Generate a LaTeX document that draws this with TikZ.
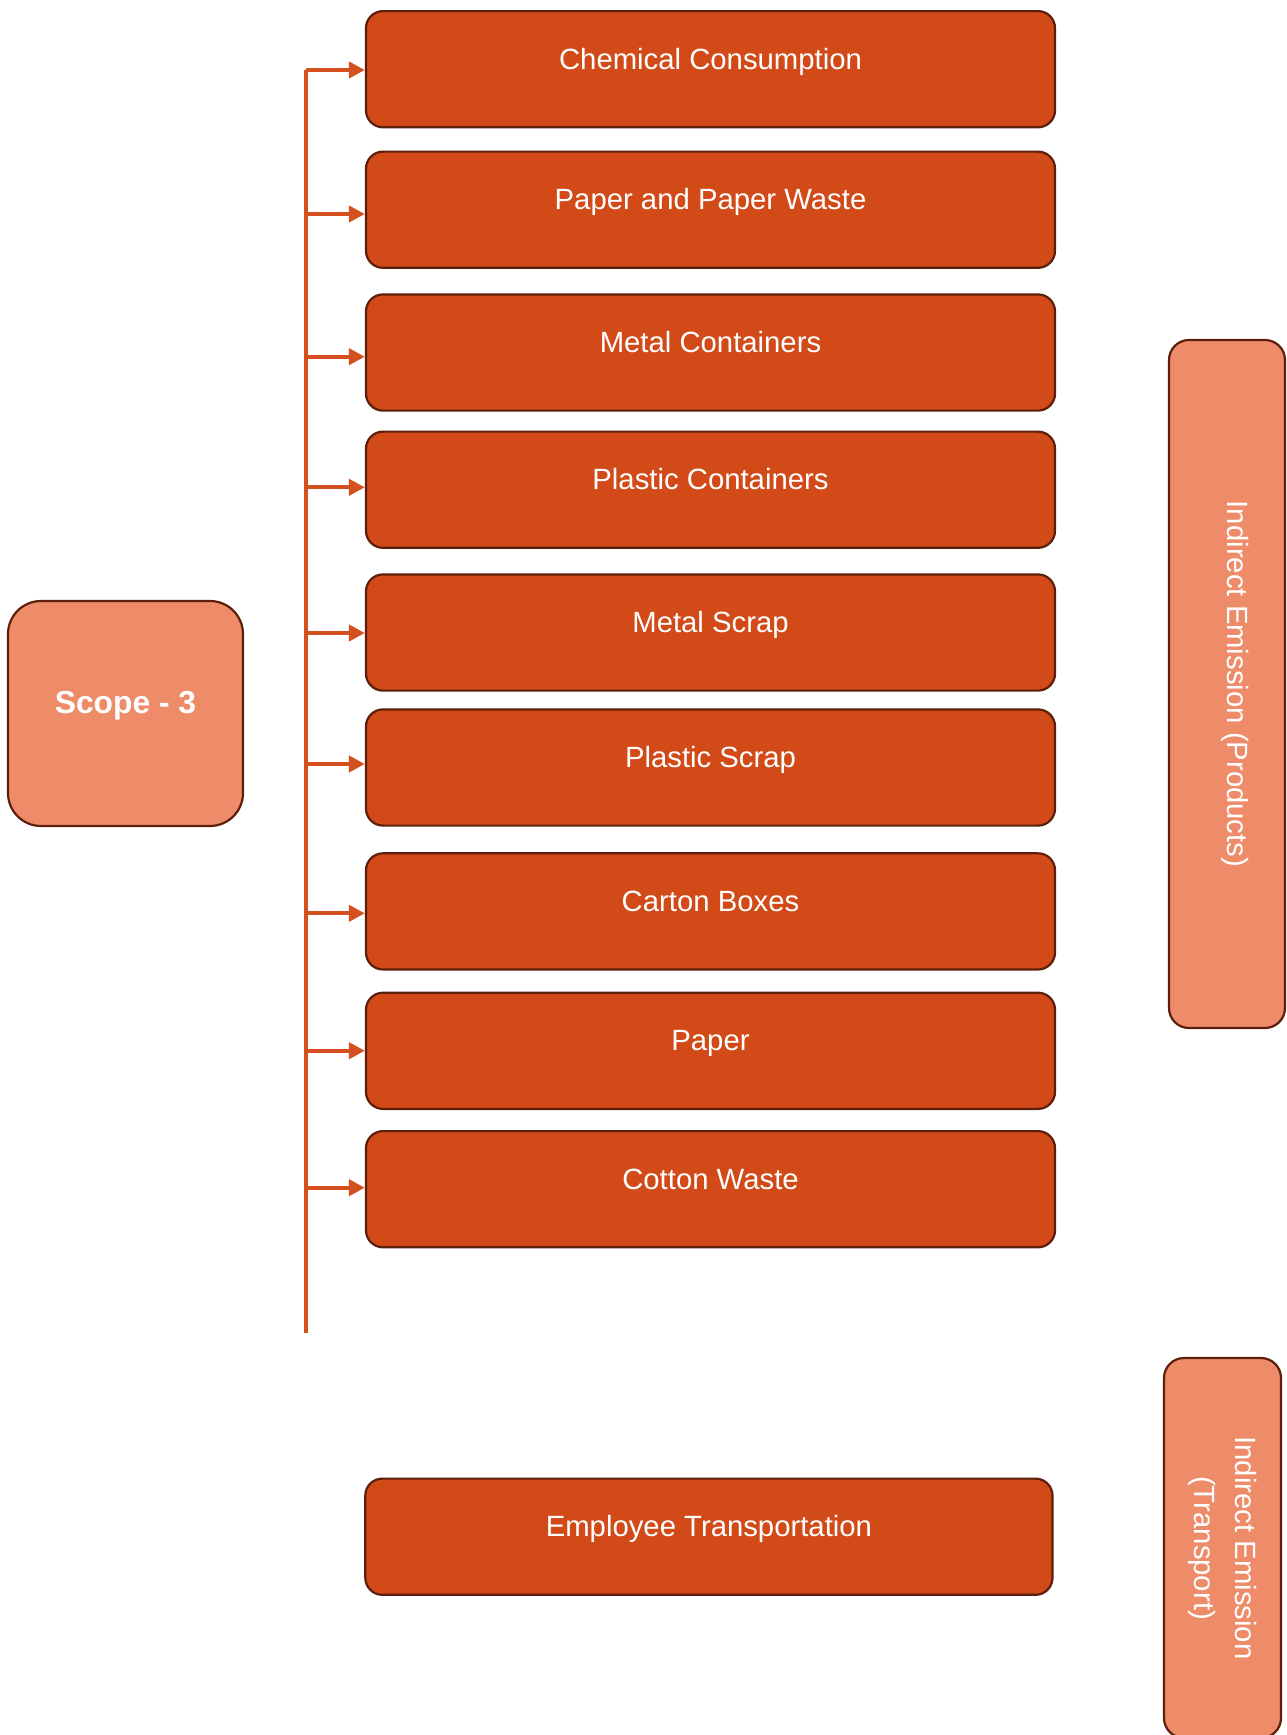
\documentclass[tikz,border=0pt]{standalone}
\usepackage{fontspec}
\setmainfont{Liberation Sans}
\usetikzlibrary{arrows.meta}
\definecolor{darkfill}{HTML}{D14A18}
\definecolor{lightfill}{HTML}{EE8C6A}
\definecolor{edgecol}{HTML}{5C1F0B}
\definecolor{linkcol}{HTML}{D4501F}
\begin{document}
\begin{tikzpicture}[x=0.5pt,y=-0.5pt,
  itembox/.style={draw=edgecol, line width=1.1pt, fill=darkfill, rounded corners=8.5pt,
    minimum width=344.5pt, minimum height=58.1pt, inner sep=0pt},
  sidebox/.style={draw=edgecol, line width=1.1pt, fill=lightfill, rounded corners=10pt, inner sep=0pt},
  lbl/.style={text=white, font=\fontsize{14.65}{17}\selectfont, anchor=base, inner sep=0pt},
  link/.style={draw=linkcol, line width=2pt, -{Triangle[length=8pt,width=8pt]}},
  trunk/.style={draw=linkcol, line width=2pt}
]
\useasboundingbox (0,0) rectangle (1286,1735);
\clip (0,0) rectangle (1286,1735);
\fill[white] (0,0) rectangle (1286,1735);

% items
\node[itembox] (c1) at (710.5,69.2) {};
\node[itembox] (c2) at (710.5,209.7) {};
\node[itembox] (c3) at (710.5,352.5) {};
\node[itembox] (c4) at (710.5,489.7) {};
\node[itembox] (c5) at (710.5,632.5) {};
\node[itembox] (c6) at (710.5,767.5) {};
\node[itembox] (c7) at (710.5,911.4) {};
\node[itembox] (c8) at (710.5,1050.8) {};
\node[itembox] (c9) at (710.5,1189.2) {};
\node[itembox, minimum width=343.6pt] (c10) at (708.9,1536.7) {};

\node[lbl] (t1) at (c1.center) {Chemical Consumption};
\node[lbl] (t2) at (c2.center) {Paper and Paper Waste};
\node[lbl] (t3) at (c3.center) {Metal Containers};
\node[lbl] (t4) at (c4.center) {Plastic Containers};
\node[lbl] (t5) at (c5.center) {Metal Scrap};
\node[lbl] (t6) at (c6.center) {Plastic Scrap};
\node[lbl] (t7) at (c7.center) {Carton Boxes};
\node[lbl] (t8) at (c8.center) {Paper};
\node[lbl] (t9) at (c9.center) {Cotton Waste};
\node[lbl] (t10) at (c10.center) {Employee Transportation};

% scope box
\node[sidebox, rounded corners=16.5pt, minimum width=117.5pt, minimum height=112.5pt] (scope) at (125.5,713.5) {};
\node[lbl, font=\bfseries\fontsize{15.9}{18}\selectfont] (tscope) at (scope.center) {Scope - 3};

% side boxes
\node[sidebox, minimum width=58pt, minimum height=344pt] (prod) at (1227,684) {};
\node[lbl, rotate=-90] (tprod) at (prod.center) {Indirect Emission (Products)};
\node[sidebox, minimum width=58.5pt, minimum height=190pt] (trans) at (1222.5,1548) {};
\node[text=white, font=\fontsize{14.65}{20.5}\selectfont, align=center, inner sep=0pt, rotate=-90] (ttrans) at (trans.center) {Indirect Emission\\(Transport)};

% connectors
\coordinate (a1) at (305.7,70);
\coordinate (a2) at (305.7,214);
\coordinate (a3) at (305.7,356.7);
\coordinate (a4) at (305.7,487.3);
\coordinate (a5) at (305.7,633);
\coordinate (a6) at (305.7,764);
\coordinate (a7) at (305.7,913.3);
\coordinate (a8) at (305.7,1050.7);
\coordinate (a9) at (305.7,1187.7);
\coordinate (bot) at (305.7,1333);
\draw[trunk] (bot) -- (a1);
\foreach \i in {1,...,9} {
  \draw[link] (a\i) -- (a\i -| c\i.west);
}
\end{tikzpicture}
\end{document}
